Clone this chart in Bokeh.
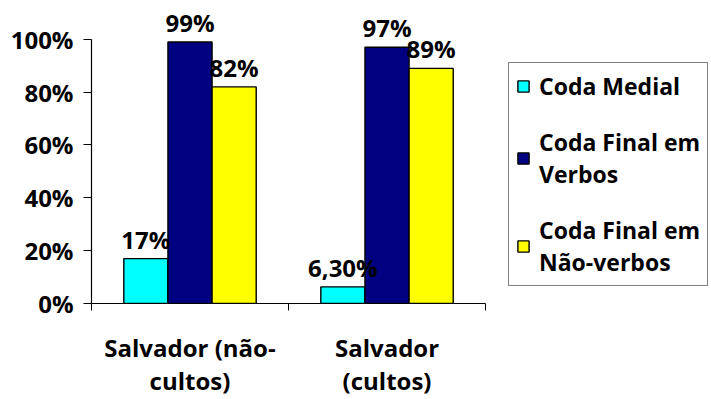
from bokeh.plotting import figure
from bokeh.models import (Range1d, FixedTicker, NumeralTickFormatter, ColumnDataSource,
                          Legend, LegendItem)
from bokeh.core.properties import value
from bokeh.embed import file_html
from bokeh.resources import INLINE

# Categories and series values
groups = ["Salvador (não-\ncultos)", "Salvador\n(cultos)"]
series_names = ["Coda Medial", "Coda Final em\nVerbos", "Coda Final em\nNão-verbos"]
coda_medial = [0.17, 0.063]
coda_final_verbos = [0.99, 0.97]
coda_final_nao_verbos = [0.82, 0.89]
series_values = [coda_medial, coda_final_verbos, coda_final_nao_verbos]
series_colors = ["#00FFFF", "#000080", "#FFFF00"]
y_ticks = [0, 0.2, 0.4, 0.6, 0.8, 1.0]


def pct_label(v):
    # whole percentages print without decimals, others with two (comma decimal)
    pct = v * 100
    if abs(pct - round(pct)) < 1e-9:
        return f"{int(round(pct))}%"
    return f"{pct:.2f}".replace(".", ",") + "%"


FONT = "Open Sans"
FS = "24px"

p = figure(width=711, height=399, output_backend="svg", toolbar_location=None,
           x_range=Range1d(0, 3.147), y_range=Range1d(0, 1.147),
           min_border_left=91, min_border_right=0, min_border_top=0,
           min_border_bottom=96)
p.outline_line_color = None
p.xgrid.visible = False
p.ygrid.visible = False
p.background_fill_color = "white"
p.border_fill_color = "white"

bar_w = 0.224
offsets = [-bar_w, 0.0, bar_w]
renderers = []
sources = []
for vals, col, off in zip(series_values, series_colors, offsets):
    src = ColumnDataSource(dict(
        x=[i + 0.5 + off for i in range(len(groups))],
        top=vals,
        label=[pct_label(v) for v in vals],
    ))
    r = p.vbar(x="x", top="top", width=bar_w, bottom=0, source=src,
               fill_color=col, line_color="black", line_width=1.4)
    renderers.append(r)
    sources.append(src)

# value labels drawn over all bars
for src in sources:
    p.text(x="x", y="top", text="label", source=src, text_align="center",
           text_baseline="bottom", y_offset=-3, text_font=value(FONT),
           text_font_style="bold", text_font_size=FS, text_color="black")

# y axis
p.yaxis.ticker = FixedTicker(ticks=y_ticks, minor_ticks=[])
p.yaxis.formatter = NumeralTickFormatter(format="0%")
p.yaxis.bounds = (0, 1)
p.yaxis.major_tick_out = 8
p.yaxis.major_tick_in = 0
p.yaxis.major_label_standoff = 10
p.yaxis.axis_line_color = "black"
p.yaxis.axis_line_width = 1.2
p.yaxis.major_tick_line_color = "black"
p.yaxis.major_label_text_font = FONT
p.yaxis.major_label_text_font_style = "bold"
p.yaxis.major_label_text_font_size = FS
p.yaxis.major_label_text_color = "black"

# x axis: labels at group centers, ticks at group boundaries
n = len(groups)
p.xaxis.ticker = FixedTicker(ticks=[i + 0.5 for i in range(n)],
                             minor_ticks=list(range(n + 1)))
p.xaxis.major_label_overrides = {i + 0.5: g for i, g in enumerate(groups)}
p.xaxis.bounds = (0, n)
p.xaxis.major_tick_line_color = None
p.xaxis.major_tick_out = 0
p.xaxis.major_tick_in = 0
p.xaxis.minor_tick_out = 7
p.xaxis.minor_tick_in = 0
p.xaxis.minor_tick_line_color = "black"
p.xaxis.axis_line_color = "black"
p.xaxis.axis_line_width = 1.2
p.xaxis.major_label_standoff = 20
p.xaxis.major_label_text_font = FONT
p.xaxis.major_label_text_font_style = "bold"
p.xaxis.major_label_text_font_size = FS
p.xaxis.major_label_text_color = "black"
p.xaxis.major_label_text_line_height = 1.0

legend = Legend(items=[LegendItem(label=s, renderers=[r])
                       for s, r in zip(series_names, renderers)],
                location=(417, 17))
legend.border_line_color = "black"
legend.border_line_width = 1.2
legend.background_fill_alpha = 1
legend.label_text_font = FONT
legend.label_text_font_style = "bold"
legend.label_text_font_size = "23px"
legend.label_text_color = "black"
legend.label_text_line_height = 1.15
legend.glyph_width = 14
legend.glyph_height = 14
legend.label_standoff = 9
legend.padding = 7
legend.spacing = 24
legend.margin = 0
p.add_layout(legend)

open("out.html", "w").write(file_html(p, INLINE))
